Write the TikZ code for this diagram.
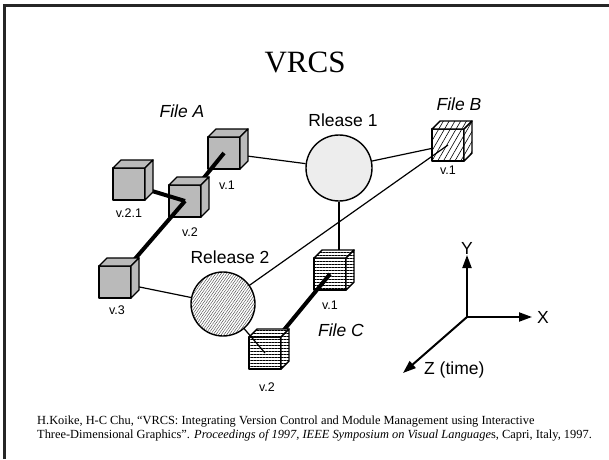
\documentclass[tikz,border=0pt]{standalone}
\usepackage{fontspec}
\setmainfont{Liberation Serif}
\newfontfamily\helv{Liberation Sans}
\usetikzlibrary{positioning,arrows.meta,patterns.meta}

% top and side faces of a cube whose front face is node #1
\newcommand{\cubefaces}[2]{%
  \draw[#2] (#1.north west) -- ++(8,8) -- ([shift={(8,8)}]#1.north east) -- (#1.north east) -- cycle;
  \draw[#2] (#1.north east) -- ([shift={(8,8)}]#1.north east) -- ([shift={(8,8)}]#1.south east) -- (#1.south east) -- cycle;}

\begin{document}
\begin{tikzpicture}[x=1pt, y=1pt]
    \tikzset{
      cube/.style = {rectangle, draw=black, line width=1.4pt, line join=round, minimum size=32pt, inner sep=0pt, outer sep=0pt},
      graycube/.style = {cube, fill=black!27},
      hatchcube/.style = {cube, preaction={fill=white}, pattern={Lines[angle=60,distance=5pt,line width=0.6pt]}},
      stripecube/.style = {cube, preaction={fill=white}, pattern={Lines[angle=0,distance=3pt,line width=0.8pt]}},
      release/.style = {circle, draw=black, line width=1.4pt, inner sep=0pt},
      lbl/.style = {font=\helv\fontsize{17.5}{20}\selectfont, inner sep=0pt},
      filelbl/.style = {font=\helv\itshape\fontsize{17.5}{20}\selectfont, inner sep=0pt},
      vlbl/.style = {font=\helv\fontsize{12.5}{14}\selectfont, inner sep=0pt},
      link/.style = {line width=1.2pt},
      lineage/.style = {line width=4pt},
      axis/.style = {line width=2pt, -{Triangle[length=13pt,width=9pt]}},
      caption/.style = {font=\fontsize{12.4}{14}\selectfont, align=left, inner sep=0pt}
    }
    \useasboundingbox (0,0) rectangle (609,459);
    \draw[line width=2.5pt, black!85] (4.5,0) -- (4.5,453.5) -- (609,453.5);

    \node (title) at (305,397) {\fontsize{31}{35}\selectfont VRCS};

    % releases
    \node (R1) [release, minimum size=66pt, fill=black!7] at (339,291) {};
    \node (R2) [release, minimum size=64pt, preaction={fill=white}, pattern={Lines[angle=55,distance=2.2pt,line width=0.4pt]}, pattern color=black!75] at (223,155) {};
    \node [lbl] at (343,339) {Rlease 1};
    \node [lbl] at (230,202) {Release 2};

    % File A
    \node (A1) [graycube] at (224,306) {};
    \draw [link] (A1) -- (R1);
    \cubefaces{A1}{graycube}
    \node (A2) [graycube] at (185,258) {};
    \draw [lineage] (A1.center) -- (A2);
    \cubefaces{A2}{graycube}
    \node (A21) [graycube] at (129,275) {};
    \node (A3) [graycube] at (115,177) {};
    \draw [lineage] (A2.center) -- (A21);
    \draw [lineage] (A2.center) -- (A3);
    \cubefaces{A21}{graycube}
    \draw [link] (A3) -- (R2);
    \cubefaces{A3}{graycube}

    \node [filelbl] at (182,348) {File A};
    \node [vlbl] at (227,274) {v.1};
    \node [vlbl] at (190,227) {v.2};
    \node [vlbl] at (129,246) {v.2.1};
    \node [vlbl] at (117,149) {v.3};

    % File B
    \node (B1) [hatchcube] at (448,314) {};
    \draw [link] (R1) -- (B1);
    \cubefaces{B1}{hatchcube}
    \draw [link] (R2) -- (B1.center);
    \node [filelbl] at (459,355) {File B};
    \node [vlbl] at (448,289) {v.1};

    % File C
    \node (C1) [stripecube] at (330,185) {};
    \draw [link] (R1) -- (R1 |- C1.north);
    \cubefaces{C1}{stripecube}
    \node (C2) [stripecube] at (265,106) {};
    \draw [lineage] (C1.center) -- (C2);
    \cubefaces{C2}{stripecube}
    \draw [link] (R2) -- (C2.center);
    \node [filelbl] at (341,129) {File C};
    \node [vlbl] at (330,154) {v.1};
    \node [vlbl] at (267,72) {v.2};

    % axes
    \coordinate (O) at (467,142);
    \coordinate (Yend) at (467,204);
    \coordinate (Xend) at (532,142);
    \coordinate (Zend) at (403,86);
    \draw [axis] (O) -- (Yend);
    \draw [axis] (O) -- (Xend);
    \draw [axis] (O) -- (Zend);
    \node [lbl, above=0pt of Yend] {Y};
    \node [lbl, right=5pt of Xend] {X};
    \node [lbl, anchor=west] at (424,89) {Z (time)};

    \node (cite) [caption, anchor=north west] at (37,43) {H.Koike, H-C Chu, “VRCS: Integrating Version Control and Module Management using Interactive\\Three-Dimensional Graphics”. \textit{Proceedings of 1997, IEEE Symposium on Visual Language}s, Capri, Italy, 1997.};
\end{tikzpicture}
\end{document}
